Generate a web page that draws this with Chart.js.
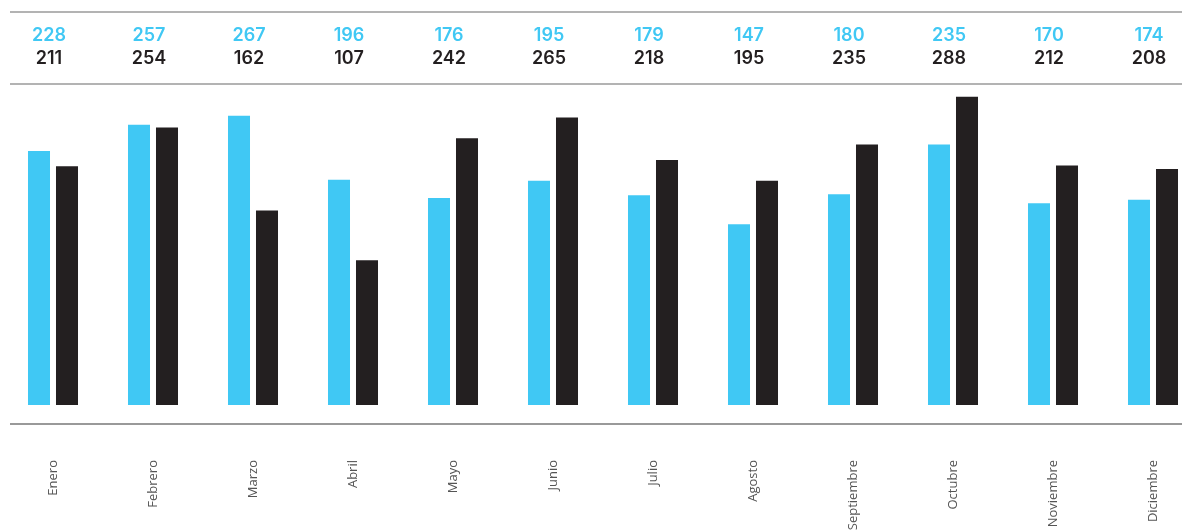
<!DOCTYPE html>
<html>
<head>
<meta charset="utf-8">
<script src="https://cdn.jsdelivr.net/npm/chart.js@4/dist/chart.umd.min.js"></script>
<style>
    html, body { margin: 0; padding: 0; background: #ffffff; overflow: hidden; }
    #bar-graph { position: absolute; left: 0; top: 0; }
</style>
</head>
<body>
<canvas id="bar-graph" width="1206" height="531"></canvas>
<script>
const months = ["Enero", "Febrero", "Marzo", "Abril", "Mayo", "Junio",
    "Julio", "Agosto", "Septiembre", "Octubre", "Noviembre", "Diciembre"];
const cyanValues = [228, 257, 267, 196, 176, 195, 179, 147, 180, 235, 170, 174];
const darkValues = [211, 254, 162, 107, 242, 265, 218, 195, 235, 288, 212, 208];

const cyanColor = "#40c8f4";
const darkColor = "#231f20";
// the bars don't start at zero in the original, base is below it
const yMin = -53;
const yMax = 302;

// lines + the two rows of numbers on top
const topNumbers = {
    id: "topNumbers",
    afterDraw(chart) {
        const ctx = chart.ctx;
        const x = chart.scales.x;
        ctx.save();
        ctx.lineWidth = 2;
        ctx.strokeStyle = "#b3b3b3";
        ctx.beginPath();
        ctx.moveTo(10, 12); ctx.lineTo(1182, 12);
        ctx.moveTo(10, 84); ctx.lineTo(1182, 84);
        ctx.stroke();
        ctx.lineWidth = 1.7;
        ctx.strokeStyle = "#777777";
        ctx.beginPath();
        ctx.moveTo(10, 424); ctx.lineTo(1182, 424);
        ctx.stroke();

        ctx.font = "600 18px Inter";
        ctx.textAlign = "center";
        ctx.textBaseline = "middle";
        for (var i = 0; i < months.length; i++) {
            const px = x.getPixelForValue(i) - 4;
            ctx.fillStyle = cyanColor;
            ctx.fillText(String(cyanValues[i]), px, 36);
            ctx.fillStyle = darkColor;
            ctx.fillText(String(darkValues[i]), px, 59);
        }
        ctx.restore();
    }
};

var barGraphCanvasContext = document.getElementById("bar-graph").getContext("2d");
var barGraph = new Chart(barGraphCanvasContext, {
    type: "bar",
    data: {
        labels: months,
        datasets: [{
            data: cyanValues,
            backgroundColor: cyanColor,
            base: yMin
        }, {
            data: darkValues,
            backgroundColor: darkColor,
            base: yMin
        }]
    },
    options: {
        responsive: false,
        animation: false,
        categoryPercentage: 0.56,
        barPercentage: 0.786,
        layout: { padding: { left: 3, right: 3, top: 84, bottom: 0 } },
        plugins: {
            legend: { display: false },
            tooltip: { enabled: false }
        },
        scales: {
            x: {
                grid: { display: false, drawTicks: false },
                border: { display: false },
                ticks: {
                    minRotation: 90,
                    maxRotation: 90,
                    autoSkip: false,
                    padding: 55,
                    color: "#555555",
                    font: { family: "Open Sans", size: 13 }
                },
                afterFit: function (scale) {
                    scale.height = 126;
                    scale.paddingLeft = 0;
                    scale.paddingRight = 0;
                }
            },
            y: {
                display: false,
                min: yMin,
                max: yMax
            }
        }
    },
    plugins: [topNumbers]
});
</script>
</body>
</html>
